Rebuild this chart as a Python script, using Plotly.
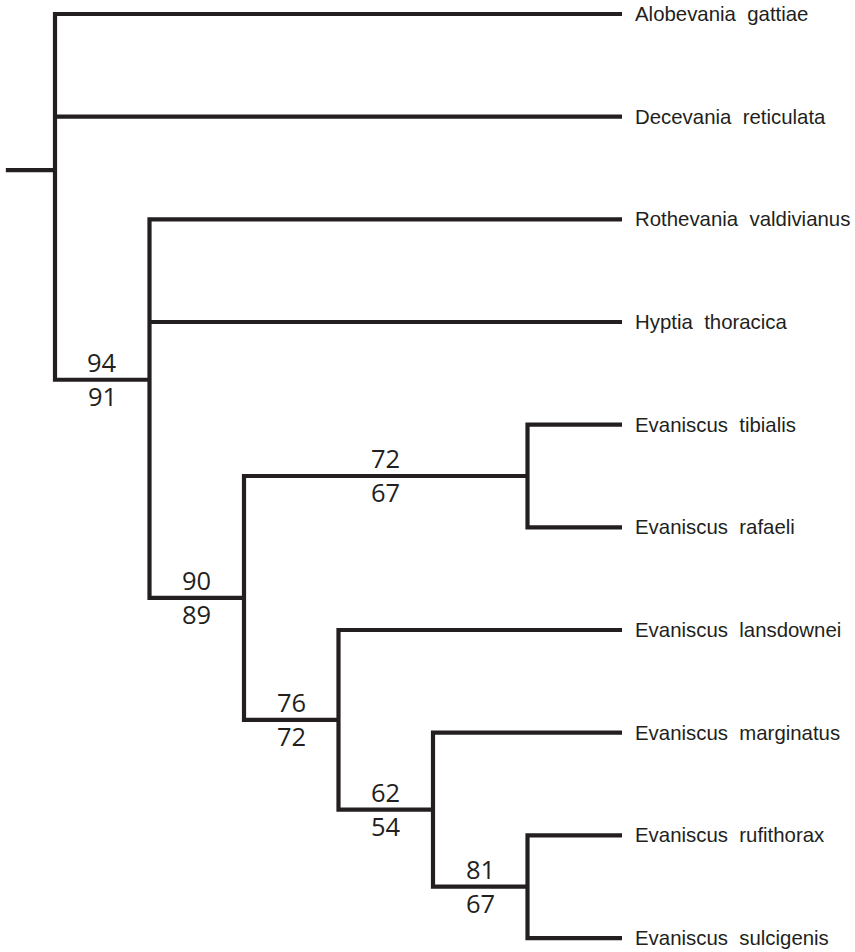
import plotly.graph_objects as go

# ---- data ----
taxa = [
    "Alobevania  gattiae",
    "Decevania  reticulata",
    "Rothevania  valdivianus",
    "Hyptia  thoracica",
    "Evaniscus  tibialis",
    "Evaniscus  rafaeli",
    "Evaniscus  lansdownei",
    "Evaniscus  marginatus",
    "Evaniscus  rufithorax",
    "Evaniscus  sulcigenis",
]
# tree topology as nested tuples of leaf indices
tree = (0, 1, (2, 3, ((4, 5), (6, (7, (8, 9))))))
# support values (upper / lower) keyed by the clade's leaf set
support_upper = {(2, 3, 4, 5, 6, 7, 8, 9): 94, (4, 5, 6, 7, 8, 9): 90, (4, 5): 72,
                 (6, 7, 8, 9): 76, (7, 8, 9): 62, (8, 9): 81}
support_lower = {(2, 3, 4, 5, 6, 7, 8, 9): 91, (4, 5, 6, 7, 8, 9): 89, (4, 5): 67,
                 (6, 7, 8, 9): 72, (7, 8, 9): 54, (8, 9): 67}

INK = "#231f20"

# ---- layout computation (cladogram, leaves aligned) ----
def height(n):
    return 0 if isinstance(n, int) else 1 + max(height(c) for c in n)

def leaves(n):
    return (n,) if isinstance(n, int) else tuple(l for c in n for l in leaves(c))

H = height(tree)

def xy(n):
    if isinstance(n, int):
        return H, n
    ys = [xy(c)[1] for c in n]
    return H - height(n), sum(ys) / len(ys)

segx, segy = [], []
sup_x, sup_y, sup_up, sup_lo = [], [], [], []

def walk(n):
    if isinstance(n, int):
        return
    nx, ny = xy(n)
    kids = [xy(c) for c in n]
    (fx, fy), (lx, ly) = kids[0], kids[-1]
    segx.extend([fx, nx, nx, lx, None])
    segy.extend([fy, fy, ly, ly, None])
    for (cx, cy) in kids[1:-1]:
        segx.extend([nx, cx, None])
        segy.extend([cy, cy, None])
    for c in n:
        key = leaves(c)
        if key in support_upper:
            cx, cy = xy(c)
            sup_x.append((nx + cx) / 2)
            sup_y.append(cy)
            sup_up.append(support_upper[key])
            sup_lo.append(support_lower[key])
        walk(c)

walk(tree)
rx, ry = xy(tree)
segx.extend([rx - 0.52, rx, None])
segy.extend([ry, ry, None])

fig = go.Figure()
fig.add_trace(go.Scatter(x=segx, y=segy, mode="lines",
                         line=dict(color=INK, width=4.2),
                         hoverinfo="skip", showlegend=False, cliponaxis=False))

annotations = []
for i, name in enumerate(taxa):
    annotations.append(dict(x=H, y=i, text=name.replace(" ", "\u00a0"),
                            xanchor="left", yanchor="middle", xshift=11, yshift=0,
                            showarrow=False,
                            font=dict(family="Liberation Sans, Arial", size=20.4, color=INK)))
for x, y, u, l in zip(sup_x, sup_y, sup_up, sup_lo):
    annotations.append(dict(x=x, y=y, text=str(u), xanchor="center", yanchor="middle",
                            yshift=18, showarrow=False,
                            font=dict(family="Open Sans", size=25.5, color=INK)))
    annotations.append(dict(x=x, y=y, text=str(l), xanchor="center", yanchor="middle",
                            yshift=-16, showarrow=False,
                            font=dict(family="Open Sans", size=25.5, color=INK)))

fig.update_layout(
    width=855, height=952,
    margin=dict(l=0, r=0, t=0, b=0),
    paper_bgcolor="white", plot_bgcolor="white",
    hovermode=False,
    xaxis=dict(range=[-55 / 94.5, (855 - 55) / 94.5], visible=False, fixedrange=True),
    yaxis=dict(range=[(952 - 14) / 102.67, -14 / 102.67], visible=False, fixedrange=True),
    annotations=annotations,
)
fig.write_html("out.html",
               config={"displayModeBar": False, "staticPlot": True},
               post_script="document.body.style.margin='0';document.body.style.overflow='hidden';")
